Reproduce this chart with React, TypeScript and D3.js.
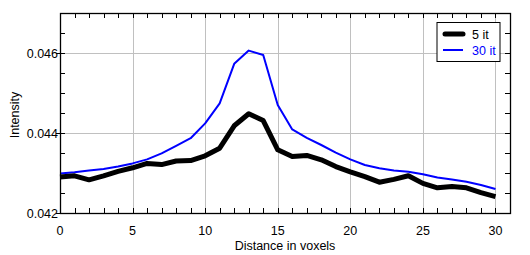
import React from "react";
import * as d3 from "d3";

const distance = d3.range(0, 31);
const fiveIt = [
  0.0429, 0.04293, 0.04283, 0.04293, 0.04304, 0.04313, 0.04324, 0.04321, 0.0433, 0.04331,
  0.04343, 0.04362, 0.04418, 0.04448, 0.04431, 0.04358, 0.04341, 0.04344, 0.04333, 0.04316,
  0.04303, 0.04291, 0.04277, 0.04284, 0.04293, 0.04274, 0.04263, 0.04266, 0.04263, 0.04251,
  0.04241,
];
const thirtyIt = [
  0.04299, 0.04302, 0.04306, 0.0431, 0.04316, 0.04324, 0.04334, 0.04349, 0.04368, 0.04387,
  0.04424, 0.04474, 0.04573, 0.04606, 0.04595, 0.0447, 0.04409, 0.04388, 0.0437, 0.04351,
  0.04334, 0.0432, 0.04312, 0.04306, 0.04303, 0.04297, 0.04289, 0.04284, 0.04278, 0.0427,
  0.0426,
];
const xTicks = [0, 5, 10, 15, 20, 25, 30];
const yTicks = [0.042, 0.044, 0.046];
const seriesNames = ["5 it", "30 it"];

const width = 530;
const height = 255;
const margin = { top: 13, left: 60, bottom: 42, right: 20 };
const font = "'Liberation Sans', Arial, sans-serif";
const fs = 12.5;

export default function App() {
  const x = d3.scaleLinear().domain([0, 31]).range([margin.left, width - margin.right]);
  const y = d3.scaleLinear().domain([0.042, 0.047]).range([height - margin.bottom, margin.top]);
  const x0 = x.range()[0], x1 = x.range()[1];
  const y0 = y.range()[0], y1 = y.range()[1];

  const line = (vals: number[]) =>
    d3.line<number>().x((d, i) => x(distance[i])).y(d => y(d))(vals) || "";

  const xMinor = d3.range(0, 32, 1);
  const yMinor = d3.range(0.042, 0.04701, 0.0005);
  const px = (v: number) => Math.round(v) + 0.5;

  return (
    <svg width={width} height={height} style={{ position: "absolute", left: 0, top: 0, background: "#fff" }}>
      {/* grid */}
      {xTicks.map(t => (
        <line key={"gx" + t} x1={px(x(t))} x2={px(x(t))} y1={y0} y2={y1} stroke="#c0c0c0" />
      ))}
      {yTicks.map(t => (
        <line key={"gy" + t} x1={x0} x2={x1} y1={px(y(t))} y2={px(y(t))} stroke="#c0c0c0" />
      ))}
      {/* minor ticks */}
      {xMinor.map(t => (
        <g key={"tx" + t}>
          <line x1={px(x(t))} x2={px(x(t))} y1={y0} y2={y0 - 5} stroke="#000" />
          <line x1={px(x(t))} x2={px(x(t))} y1={y1} y2={y1 + 5} stroke="#000" />
        </g>
      ))}
      {yMinor.map((t, i) => (
        <g key={"ty" + i}>
          <line x1={x0} x2={x0 + 5} y1={px(y(t))} y2={px(y(t))} stroke="#000" />
          <line x1={x1} x2={x1 - 5} y1={px(y(t))} y2={px(y(t))} stroke="#000" />
        </g>
      ))}
      {yTicks.map(t => (
        <line key={"oy" + t} x1={x0 - 4} x2={x0} y1={px(y(t))} y2={px(y(t))} stroke="#000" />
      ))}
      {/* data */}
      <path d={line(thirtyIt)} fill="none" stroke="#0000ff" strokeWidth={2} strokeLinejoin="round" />
      <path d={line(fiveIt)} fill="none" stroke="#000" strokeWidth={5} strokeLinejoin="round" />
      {/* frame */}
      <rect x={px(x0)} y={px(y1)} width={Math.round(x1 - x0)} height={Math.round(y0 - y1)} fill="none" stroke="#000" strokeWidth={1.3} />
      {/* tick labels */}
      {xTicks.map(t => (
        <text key={"lx" + t} x={x(t)} y={y0 + 22} textAnchor="middle" fontFamily={font} fontSize={fs}>
          {t}
        </text>
      ))}
      {yTicks.map(t => (
        <text key={"ly" + t} x={x0 - 2} y={y(t) + 5} textAnchor="end" fontFamily={font} fontSize={fs}>
          {d3.format(".3f")(t)}
        </text>
      ))}
      <text x={(x0 + x1) / 2} y={y0 + 37} textAnchor="middle" fontFamily={font} fontSize={fs}>
        Distance in voxels
      </text>
      <text transform={`translate(19,${(y0 + y1) / 2 + 2}) rotate(-90)`} textAnchor="middle" fontFamily={font} fontSize={fs}>
        Intensity
      </text>
      {/* legend */}
      <g transform="translate(437,22.5)">
        <rect width={63} height={39} fill="#fff" stroke="#000" />
        <line x1={8} x2={26} y1={11.5} y2={11.5} stroke="#000" strokeWidth={5} strokeLinecap="round" />
        <line x1={6} x2={26} y1={27.5} y2={27.5} stroke="#0000ff" strokeWidth={2} />
        <text x={35} y={16} fontFamily={font} fontSize={fs}>{seriesNames[0]}</text>
        <text x={35} y={32} fontFamily={font} fontSize={fs} fill="#0000ff">{seriesNames[1]}</text>
      </g>
    </svg>
  );
}
